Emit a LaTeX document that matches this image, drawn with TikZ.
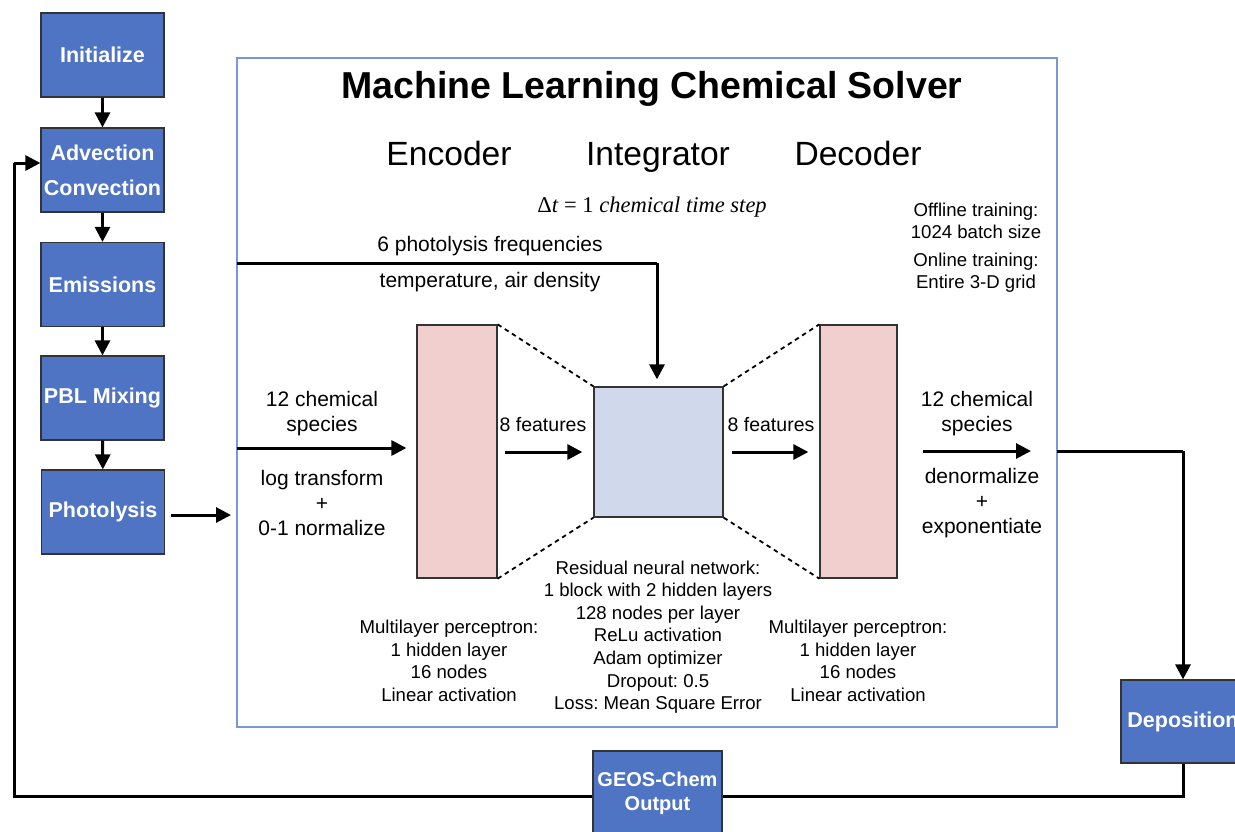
\documentclass[tikz,border=0pt]{standalone}
\usepackage{fontspec}
\setmainfont{Liberation Sans}
\newfontfamily\timesfont{Liberation Serif}
\usetikzlibrary{arrows.meta}
\definecolor{procblue}{RGB}{79,116,196}
\definecolor{framblue}{RGB}{122,152,216}
\definecolor{encpink}{RGB}{242,207,207}
\definecolor{intblue}{RGB}{207,217,235}
\begin{document}
\frenchspacing
\begin{tikzpicture}[x=1pt,y=-1pt,
  proc/.style={draw=black!80, line width=1.2pt, fill=procblue, text=white,
    font=\bfseries\fontsize{21.5}{25}\selectfont, minimum width=123pt,
    minimum height=84pt, align=center, inner sep=0pt},
  arr/.style={line width=3pt, -{Triangle[length=15pt,width=15pt]}},
  blk/.style={line width=3pt},
  lbl/.style={font=\fontsize{21}{25}\selectfont, align=center, inner sep=0pt},
  capt/.style={font=\fontsize{18.6}{22.5}\selectfont, align=center, inner sep=0pt},
  hdr/.style={font=\fontsize{33.6}{38}\selectfont, inner sep=0pt, anchor=base},
  dsh/.style={line width=1.8pt, dash pattern=on 4.5pt off 4pt}]
\useasboundingbox (0,0) rectangle (1235,831);
\fill[white] (0,0) rectangle (1235,831);

% main frame
\node[draw=framblue, line width=1.3pt, minimum width=820pt, minimum height=669pt, inner sep=0pt] (frame) at (647,392.5) {};

% process boxes
\node[proc] (init) at (102.5,55) {\raisebox{-2pt}{Initialize}};
\node[proc] (adv) at (102.5,170) {Advection\\[10pt]Convection};
\node[proc] (emis) at (102.5,284.5) {\raisebox{-2pt}{Emissions}};
\node[proc] (pbl) at (102.5,398) {\raisebox{-2pt}{PBL Mixing}};
\node[proc] (phot) at (103,512) {\raisebox{-3pt}{Photolysis}};
\node[proc, minimum width=124pt, minimum height=83pt] (dep) at (1183,721.5) {Deposition};

% arrows between process boxes
\draw[arr] (init) -- (adv);
\draw[arr] (adv) -- (emis);
\draw[arr] (emis) -- (pbl);
\draw[arr] (pbl) -- (phot);

% feedback loop (drawn before GEOS-Chem box so it passes behind)
\coordinate (fbA) at (1183,796);
\coordinate (fbB) at (14,796);
\coordinate (fbC) at (14,163);
\draw[blk] (dep.south) -- (fbA) -- (fbB) -- (fbC);
\draw[arr] (fbC) -- (fbC -| adv.west);
\node[proc, minimum width=129pt, minimum height=84pt, font=\bfseries\fontsize{20}{24}\selectfont] (geos) at (657.5,793) {GEOS-Chem\\Output};

% photolysis to frame
\coordinate (photin) at (231,515);
\draw[arr] ([xshift=6pt]photin -| phot.east) -- (photin);

% title and headers
\node[font=\bfseries\fontsize{37.5}{42}\selectfont, inner sep=0pt] (title) at (652,89) {Machine Learning Chemical Solver};
\node[hdr] (henc) at (449,165) {Encoder};
\node[hdr] (hint) at (658,165) {Integrator};
\node[hdr] (hdec) at (858,165) {Decoder};
\node[font=\timesfont\fontsize{22.5}{26}\selectfont, inner sep=0pt, anchor=base] (dt) at (652,212) {Δ\textit{t} = 1 \textit{chemical time step}};

\node[capt] (off1) at (976,221) {Offline training:\\1024 batch size};
\node[capt] (on1) at (976,272.5) {Online training:\\Entire 3-D grid};

% network blocks
\node[draw=black!80, line width=1.3pt, fill=encpink, minimum width=80pt, minimum height=253pt, inner sep=0pt] (enc) at (457,451.5) {};
\node[draw=black!80, line width=1.3pt, fill=intblue, minimum width=129pt, minimum height=130pt, inner sep=0pt] (intg) at (658.5,452) {};
\node[draw=black!80, line width=1.3pt, fill=encpink, minimum width=77pt, minimum height=253pt, inner sep=0pt] (dec) at (858.5,451.5) {};

\draw[dsh] (enc.north east) -- (intg.north west);
\draw[dsh] (enc.south east) -- (intg.south west);
\draw[dsh] (intg.north east) -- (dec.north west);
\draw[dsh] (intg.south east) -- (dec.south west);

% photolysis frequencies input
\coordinate (pfA) at (237,263);
\coordinate (pfB) at (657,263);
\draw[blk] (pfA) -- (pfB);
\draw[arr, shorten >=7pt] (pfB) -- (pfB |- intg.north);
\node[lbl] (pf1) at (490,246.5) {6 photolysis frequencies};
\node[lbl] (pf2) at (490,282.5) {temperature, air density};

% species input
\coordinate (spA) at (237,448);
\draw[arr] (spA) -- ([xshift=-10pt]spA -| enc.west);
\node[lbl] (spl1) at (322,413.5) {12 chemical\\species};
\node[lbl] (spl2) at (322,503) {log transform\\+\\0-1 normalize};

% features arrows
\coordinate (f1a) at (505,452);
\coordinate (f2a) at (732,452);
\draw[arr] (f1a) -- ([xshift=-11pt]f1a -| intg.west);
\draw[arr] (f2a) -- ([xshift=-11pt]f2a -| dec.west);
\node[lbl, font=\fontsize{19.5}{23}\selectfont] (ft1) at (543,425) {8 features};
\node[lbl, font=\fontsize{19.5}{23}\selectfont] (ft2) at (771,425) {8 features};

% species output
\coordinate (soA) at (923,451);
\coordinate (soB) at (1031,451);
\draw[arr] (soA) -- (soB);
\node[lbl] (sol1) at (977,413.5) {12 chemical\\species};
\node[lbl] (sol2) at (982,503) {denormalize\\+\\exponentiate};

% to deposition
\coordinate (dpA) at (1057,451);
\coordinate (dpB) at (1183,451);
\draw[blk] (dpA) -- (dpB);
\draw[arr] (dpB) -- (dep.north);

% captions
\node[capt] (mlp1) at (449,661) {Multilayer perceptron:\\1 hidden layer\\16 nodes\\Linear activation};
\node[capt] (mlp2) at (858,661) {Multilayer perceptron:\\1 hidden layer\\16 nodes\\Linear activation};
\node[capt, font=\fontsize{18.6}{22.6}\selectfont] (res) at (658,637) {Residual neural network:\\1 block with 2 hidden layers\\128 nodes per layer\\ReLu activation\\Adam optimizer\\Dropout: 0.5\\Loss: Mean Square Error};
\end{tikzpicture}
\end{document}
